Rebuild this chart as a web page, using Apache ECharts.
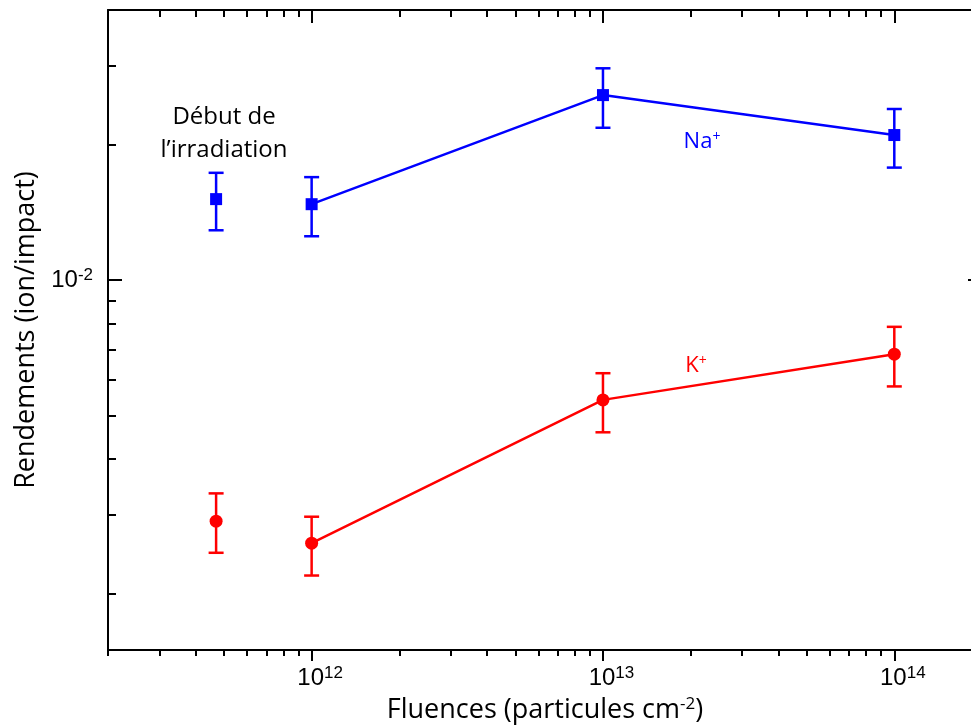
<!DOCTYPE html>
<html>
<head>
<meta charset="utf-8">
<script src="https://cdn.jsdelivr.net/npm/echarts@6/dist/echarts.min.js"></script>
<style>
  html, body { margin: 0; padding: 0; background: #fff; }
  #chart { width: 971px; height: 728px; }
</style>
</head>
<body>
<div id="chart"></div>
<script>
// fluences (particules cm-2) of the irradiation series
var fluences = [1e12, 1e13, 1e14];
// Na+ yields and error bounds
var naYield = [0.01477, 0.02585, 0.02106];
var naLow = [0.01253, 0.02186, 0.01782];
var naHigh = [0.01697, 0.02966, 0.02407];
// K+ yields and error bounds
var kYield = [0.002595, 0.005412, 0.006843];
var kLow = [0.002198, 0.004583, 0.005799];
var kHigh = [0.002972, 0.006206, 0.007873];
// "Début de l'irradiation" points (not joined to the line)
var startFluence = [4.7e11];
var naStartYield = [0.01516];
var naStartLow = [0.01292];
var naStartHigh = [0.01735];
var kStartYield = [0.002905];
var kStartLow = [0.00247];
var kStartHigh = [0.00335];
// ticks
var xMajorTicks = [1e12, 1e13, 1e14];
var xMinorTicks = [2e11, 3e11, 4e11, 5e11, 6e11, 7e11, 8e11, 9e11,
  2e12, 3e12, 4e12, 5e12, 6e12, 7e12, 8e12, 9e12,
  2e13, 3e13, 4e13, 5e13, 6e13, 7e13, 8e13, 9e13, 2e14];
var yMajorTicks = [1e-2];
var yMinorTicks = [2e-3, 3e-3, 4e-3, 5e-3, 6e-3, 7e-3, 8e-3, 9e-3, 2e-2, 3e-2];

var BLUE = '#0000ff';
var RED = '#ff0000';
var nameFont = '"Open Sans", "Noto Sans", sans-serif';
var tickFont = '"Liberation Sans", Arial, sans-serif';

function pow10Label(v) {
  var e = Math.round(Math.log(v) / Math.LN10);
  return '{b|10}{s|' + e + '}';
}
var powRich = {
  b: { fontSize: 24, fontFamily: tickFont, color: '#000', padding: [0, 0, 0, 17] },
  s: { fontSize: 17, fontFamily: tickFont, color: '#000', padding: [0, 0, 10, 0] }
};

function pts(xs, ys) {
  return xs.map(function (x, i) { return [x, ys[i]]; });
}

function errorBars(xs, lows, highs, color) {
  return {
    type: 'custom',
    xAxisIndex: 0,
    yAxisIndex: 0,
    silent: true,
    z: 2,
    data: xs.map(function (x, i) { return [x, lows[i], highs[i]]; }),
    encode: { x: 0, y: [1, 2] },
    renderItem: function (params, api) {
      var x = api.value(0);
      var lo = api.coord([x, api.value(1)]);
      var hi = api.coord([x, api.value(2)]);
      var hw = 7.5;
      var st = { stroke: color, lineWidth: 2.5 };
      return {
        type: 'group',
        children: [
          { type: 'line', shape: { x1: lo[0], y1: lo[1], x2: hi[0], y2: hi[1] }, style: st },
          { type: 'line', shape: { x1: lo[0] - hw, y1: lo[1], x2: lo[0] + hw, y2: lo[1] }, style: st },
          { type: 'line', shape: { x1: hi[0] - hw, y1: hi[1], x2: hi[0] + hw, y2: hi[1] }, style: st }
        ]
      };
    }
  };
}

var xBase = { type: 'log', logBase: 10, min: 2e11, max: 2e14, gridIndex: 0, splitLine: { show: false } };
var yBase = { type: 'log', logBase: 10, min: 1.5e-3, max: 4e-2, gridIndex: 0, splitLine: { show: false } };
var lineStyle = { color: '#000', width: 2 };

function axis(base, extra) {
  return Object.assign({}, base, extra);
}

var option = {
  backgroundColor: '#fff',
  animation: false,
  grid: { left: 108, top: 10, right: -11, bottom: 78, containLabel: false, outerBoundsMode: 'none' },
  xAxis: [
    axis(xBase, {
      position: 'bottom',
      axisLine: { show: true, lineStyle: lineStyle },
      axisTick: { show: true, inside: false, length: 11, customValues: xMajorTicks, lineStyle: lineStyle },
      axisLabel: {
        show: true, customValues: xMajorTicks, margin: 15, formatter: pow10Label,
        fontSize: 24, fontFamily: tickFont, color: '#000', rich: powRich
      },
      name: 'Fluences (particules cm{s|-2})',
      nameLocation: 'middle',
      nameGap: 46,
      nameTextStyle: {
        fontSize: 27, fontFamily: nameFont, color: '#000',
        rich: { s: { fontSize: 17, fontFamily: nameFont, color: '#000', padding: [0, 0, 12, 0] } }
      }
    }),
    axis(xBase, {
      position: 'bottom',
      axisLine: { show: false },
      axisTick: { show: true, inside: false, length: 6, customValues: xMinorTicks, lineStyle: lineStyle },
      axisLabel: { show: false }
    }),
    axis(xBase, {
      position: 'top',
      axisLine: { show: true, lineStyle: lineStyle },
      axisTick: { show: true, inside: true, length: 13, customValues: xMajorTicks, lineStyle: lineStyle },
      axisLabel: { show: false }
    }),
    axis(xBase, {
      position: 'top',
      axisLine: { show: false },
      axisTick: { show: true, inside: true, length: 7, customValues: xMinorTicks, lineStyle: lineStyle },
      axisLabel: { show: false }
    })
  ],
  yAxis: [
    axis(yBase, {
      position: 'left',
      axisLine: { show: true, lineStyle: lineStyle },
      axisTick: { show: true, inside: true, length: 14, customValues: yMajorTicks, lineStyle: lineStyle },
      axisLabel: {
        show: true, customValues: yMajorTicks, margin: 15, formatter: pow10Label,
        fontSize: 24, fontFamily: tickFont, color: '#000', rich: powRich
      },
      name: 'Rendements (ion/impact)',
      nameLocation: 'middle',
      nameRotate: 90,
      nameGap: 64,
      nameTextStyle: { fontSize: 27, fontFamily: nameFont, color: '#000' }
    }),
    axis(yBase, {
      position: 'left',
      axisLine: { show: false },
      axisTick: { show: true, inside: true, length: 8, customValues: yMinorTicks, lineStyle: lineStyle },
      axisLabel: { show: false }
    }),
    axis(yBase, {
      position: 'right',
      axisLine: { show: true, lineStyle: lineStyle },
      axisTick: { show: true, inside: true, length: 14, customValues: yMajorTicks, lineStyle: lineStyle },
      axisLabel: { show: false }
    }),
    axis(yBase, {
      position: 'right',
      axisLine: { show: false },
      axisTick: { show: true, inside: true, length: 8, customValues: yMinorTicks, lineStyle: lineStyle },
      axisLabel: { show: false }
    })
  ],
  series: [
    errorBars(fluences, naLow, naHigh, BLUE),
    errorBars(startFluence, naStartLow, naStartHigh, BLUE),
    errorBars(fluences, kLow, kHigh, RED),
    errorBars(startFluence, kStartLow, kStartHigh, RED),
    {
      name: 'Na+', type: 'line', data: pts(fluences, naYield),
      symbol: 'rect', symbolSize: 12, z: 3,
      lineStyle: { color: BLUE, width: 2.5 }, itemStyle: { color: BLUE, opacity: 1 }
    },
    {
      name: 'K+', type: 'line', data: pts(fluences, kYield),
      symbol: 'circle', symbolSize: 13, z: 3,
      lineStyle: { color: RED, width: 2.5 }, itemStyle: { color: RED, opacity: 1 }
    },
    {
      type: 'scatter', data: pts(startFluence, naStartYield),
      symbol: 'rect', symbolSize: 12, z: 3, itemStyle: { color: BLUE, opacity: 1 }
    },
    {
      type: 'scatter', data: pts(startFluence, kStartYield),
      symbol: 'circle', symbolSize: 13, z: 3, itemStyle: { color: RED, opacity: 1 }
    }
  ],
  graphic: [
    {
      type: 'text', x: 224, y: 134,
      style: {
        text: 'Début de\nl\u2019irradiation', align: 'center', verticalAlign: 'middle',
        fontSize: 24, lineHeight: 33, fontFamily: nameFont, fill: '#000'
      }
    },
    {
      type: 'text', x: 702, y: 142,
      style: {
        text: '{n|Na}{s|+}', align: 'center', verticalAlign: 'middle',
        fill: BLUE,
        rich: {
          n: { fontSize: 22, fontFamily: nameFont, fill: BLUE },
          s: { fontSize: 14, fontFamily: nameFont, fill: BLUE, padding: [0, 0, 10, 0] }
        }
      }
    },
    {
      type: 'text', x: 696, y: 366,
      style: {
        text: '{n|K}{s|+}', align: 'center', verticalAlign: 'middle',
        fill: RED,
        rich: {
          n: { fontSize: 22, fontFamily: nameFont, fill: RED },
          s: { fontSize: 14, fontFamily: nameFont, fill: RED, padding: [0, 0, 10, 0] }
        }
      }
    }
  ]
};

var myChart = echarts.init(document.getElementById('chart'));
myChart.setOption(option);
</script>
</body>
</html>
